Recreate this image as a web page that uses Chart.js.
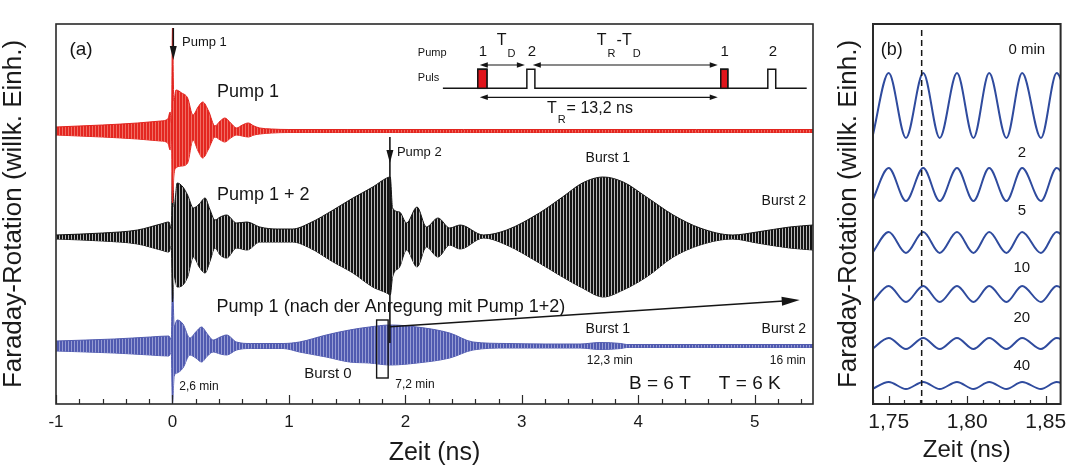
<!DOCTYPE html>
<html>
<head>
<meta charset="utf-8">
<script src="https://cdn.jsdelivr.net/npm/chart.js@4.4.1/dist/chart.umd.min.js"></script>
<style>
    body { margin: 0; background: #fff; }
    .wrap { position: relative; width: 1073px; height: 468px; }
    #ca { position: absolute; left: 0; top: 0; }
    #cb { position: absolute; left: 830px; top: 0; }
</style>
</head>
<body>
<div class="wrap">
    <canvas id="ca" width="840" height="468"></canvas>
    <canvas id="cb" width="243" height="468"></canvas>
</div>
<script>
// ---- panel (a): envelopes (deviation above / below each trace's baseline)
var xTicksA = [-1, 0, 1, 2, 3, 4, 5];

var redBase = 273;
var redT    = [-1, -0.6, -0.3, -0.1, -0.04, -0.02, -0.008, 0.0, 0.012, 0.03, 0.08, 0.13, 0.176, 0.22, 0.26, 0.31, 0.365, 0.41, 0.45, 0.5, 0.55, 0.6, 0.65, 0.7, 0.75, 0.85, 1.0, 1.5, 2.5, 3.5, 4.5, 5.5];
var redUp   = [4, 6, 8, 10, 12, 19, 8, 103, 30, 41, 38, 33, 16, 24, 29, 20, 5, 10, 13, 8, 3, 6, 8, 5, 3, 2, 1.5, 1.5, 1.5, 1.5, 1.5, 1.5];
var redDown = [4, 6, 8, 10, 12, 19, 8, 72, 45, 37, 35, 32, 9, 20, 27, 18, 6, 9, 11, 7, 4, 5, 6, 4, 3, 2, 1.5, 1.5, 1.5, 1.5, 1.5, 1.5];

var blackBase = 167;
var blackT    = [-1, -0.6, -0.3, -0.1, -0.03, -0.01, 0.0, 0.015, 0.04, 0.09, 0.13, 0.18, 0.23, 0.28, 0.32, 0.365, 0.41, 0.465, 0.55, 0.64, 0.75, 0.9, 1.03, 1.18, 1.38, 1.55, 1.72, 1.84, 1.87, 1.89, 1.95, 2.01, 2.1, 2.18, 2.28, 2.38, 2.47, 2.67, 2.87, 3.15, 3.35, 3.52, 3.7, 3.87, 4.07, 4.3, 4.53, 4.81, 5.02, 5.3, 5.5];
var blackUp   = [2, 4, 7, 13, 15, 8, 65, 30, 54, 50, 42, 29, 33, 39, 28, 17, 20, 22, 14, 15, 10, 8, 8, 14, 27, 39, 50, 59, 60, 29, 25, 14, 30, 10, 19, 9, 12, 2, 7, 24, 40, 54, 60, 55, 40, 22, 9, 2, 5, 10, 12];
var blackDown = [2, 4, 7, 13, 15, 8, 65, 40, 50, 48, 40, 20, 30, 36, 25, 11, 18, 21, 11, 13, 5, 5, 5, 11, 25, 36, 50, 56, 58, 40, 30, 13, 30, 10, 20, 8, 12, 1, 8, 26, 40, 51, 60, 53, 40, 20, 8, 2, 6, 11, 13];

var blueBase = 58;
var blueT    = [-1, -0.5, -0.19, -0.03, -0.01, 0.0, 0.015, 0.04, 0.09, 0.15, 0.2, 0.25, 0.3, 0.35, 0.41, 0.465, 0.55, 0.67, 0.95, 1.09, 1.32, 1.52, 1.69, 1.87, 2.1, 2.38, 2.58, 2.87, 3.2, 3.5, 3.67, 3.85, 3.9, 4.5, 5.5];
var blueUp   = [5, 7, 9, 10, 6, 64, 20, 26, 22, 8, 14, 19, 12, 6, 9, 11, 4, 2.5, 2.5, 4, 11, 16, 19, 21, 19, 13, 4, 2.5, 2, 2, 3.5, 2.5, 1.5, 1.5, 1.5];
var blueDown = [5, 7, 9, 10, 6, 58, 30, 27, 22, 9, 12, 16, 10, 6, 8, 9, 4, 2.5, 2.5, 6, 11, 16, 17, 19, 17, 12, 4, 2, 2, 2, 3.5, 2.5, 1.5, 1.5, 1.5];

// ---- panel (b): extrema of the zoomed traces
var xTicksB = [1.75, 1.80, 1.85];
var bTimes  = [1.7395, 1.750, 1.761, 1.772, 1.7825, 1.7935, 1.804, 1.814, 1.825, 1.835, 1.847, 1.857, 1.868];
var bIsPeak = [0, 1, 0, 1, 0, 1, 0, 1, 0, 1, 0, 1, 0];
var bLabels = ['0 min', '2', '5', '10', '20', '40'];
var bHigh   = [331, 236, 172, 118, 66, 22];
var bLow    = [266, 203, 151, 102, 55, 15];

var FONT = "'Liberation Sans', Arial, Helvetica, sans-serif";

function stripes(a, b) {
    var c = document.createElement('canvas');
    c.width = 3; c.height = 1;
    var g = c.getContext('2d');
    g.fillStyle = a; g.fillRect(0, 0, 2, 1);
    g.fillStyle = b; g.fillRect(2, 0, 1, 1);
    return g.createPattern(c, 'repeat');
}

function band(t, base, up, down, line, fillStyle) {
    return [{
        data: t.map(function (x, i) { return { x: x, y: base + up[i] }; }),
        borderColor: line, borderWidth: 1, backgroundColor: fillStyle, fill: '+1',
        pointRadius: 0, cubicInterpolationMode: 'monotone'
    }, {
        data: t.map(function (x, i) { return { x: x, y: base - down[i] }; }),
        borderColor: line, borderWidth: 1, fill: false,
        pointRadius: 0, cubicInterpolationMode: 'monotone'
    }];
}

function frameTicks(majors, step, majLen, minLen, lw) {
    return {
        id: 'frameTicks',
        afterDatasetsDraw: function (chart) {
            var a = chart.chartArea, ctx = chart.ctx, xs = chart.scales.x;
            ctx.save();
            ctx.strokeStyle = '#2a2a2a';
            ctx.lineWidth = lw;
            ctx.strokeRect(a.left, a.top, a.right - a.left, a.bottom - a.top);
            ctx.lineWidth = 1.2;
            ctx.beginPath();
            var n = Math.floor((xs.max - xs.min) / step + 1e-6);
            var start = Math.ceil(xs.min / step - 1e-6) * step;
            for (var k = 0; k <= n + 1; k++) {
                var v = start + k * step;
                if (v > xs.max + 1e-9) break;
                var isMaj = majors.some(function (m) { return Math.abs(m - v) < 1e-6; });
                var x = Math.round(xs.getPixelForValue(v)) + 0.5;
                ctx.moveTo(x, a.bottom);
                ctx.lineTo(x, a.bottom - (isMaj ? majLen : minLen));
            }
            ctx.stroke();
            ctx.restore();
        }
    };
}

function txt(ctx, s, x, y, size, align) {
    ctx.font = size + 'px ' + FONT;
    ctx.textAlign = align || 'center';
    ctx.textBaseline = 'middle';
    ctx.fillText(s, x, y);
}

function head(ctx, x1, y1, x2, y2, len, half) {
    var an = Math.atan2(y2 - y1, x2 - x1), c = Math.cos(an), s = Math.sin(an);
    ctx.beginPath();
    ctx.moveTo(x2, y2);
    ctx.lineTo(x2 - len * c + half * s, y2 - len * s - half * c);
    ctx.lineTo(x2 - len * c - half * s, y2 - len * s + half * c);
    ctx.closePath();
    ctx.fill();
}

function parts(ctx, list, x) {
    // list of [text, size, y]
    list.forEach(function (p) {
        ctx.font = p[1] + 'px ' + FONT;
        ctx.textAlign = 'left';
        ctx.textBaseline = 'middle';
        ctx.fillText(p[0], x, p[2]);
        x += ctx.measureText(p[0]).width + 1;
    });
}

var annotA = {
    id: 'annotA',
    afterDatasetsDraw: function (chart) {
        var ctx = chart.ctx;
        var X = function (v) { return chart.scales.x.getPixelForValue(v); };
        var Y = function (v) { return chart.scales.y.getPixelForValue(v); };
        ctx.save();
        ctx.fillStyle = '#151515';
        ctx.strokeStyle = '#151515';

        txt(ctx, '(a)', X(-0.785), Y(354), 19);

        // pump 1 arrow
        ctx.lineWidth = 1.6;
        ctx.beginPath(); ctx.moveTo(X(0.007), Y(376)); ctx.lineTo(X(0.007), Y(350)); ctx.stroke();
        head(ctx, X(0.007), Y(376), X(0.007), Y(344), 14, 3.5);
        txt(ctx, 'Pump 1', X(0.082), Y(362), 13, 'left');

        txt(ctx, 'Pump 1', X(0.382), Y(312), 18, 'left');
        txt(ctx, 'Pump 1 + 2', X(0.382), Y(209), 18, 'left');

        // pump 2 arrow + long marker line
        ctx.lineWidth = 1.6;
        ctx.beginPath(); ctx.moveTo(X(1.867), Y(267)); ctx.lineTo(X(1.867), Y(61)); ctx.stroke();
        head(ctx, X(1.867), Y(267), X(1.867), Y(241), 13, 3.5);
        txt(ctx, 'Pump 2', X(1.927), Y(252), 13, 'left');

        txt(ctx, 'Burst 1', X(3.738), Y(245.5), 14);
        txt(ctx, 'Burst 2', X(5.249), Y(202.5), 14);

        txt(ctx, 'Pump 1 (nach der Anregung mit Pump 1+2)', X(0.379), Y(97.3), 18, 'left');
        ctx.lineWidth = 1.4;
        ctx.beginPath(); ctx.moveTo(X(1.867), Y(77.3)); ctx.lineTo(X(5.25), Y(103)); ctx.stroke();
        head(ctx, X(1.867), Y(77.3), X(5.386), Y(104), 18, 4.5);

        ctx.lineWidth = 1.4;
        ctx.strokeRect(X(1.753), Y(84), X(1.852) - X(1.753), Y(26) - Y(84));

        txt(ctx, 'Burst 0', X(1.335), Y(30), 15);
        txt(ctx, '7,2 min', X(2.082), Y(19), 12);
        txt(ctx, '2,6 min', X(0.227), Y(17), 12);
        txt(ctx, 'Burst 1', X(3.738), Y(75), 14);
        txt(ctx, 'Burst 2', X(5.249), Y(75), 14);
        txt(ctx, '12,3 min', X(3.755), Y(43), 12);
        txt(ctx, '16 min', X(5.283), Y(43), 12);
        txt(ctx, 'B = 6 T', X(4.185), Y(20.5), 19);
        txt(ctx, 'T = 6 K', X(4.957), Y(20.5), 19);

        // inset: pulse scheme
        txt(ctx, 'Pump', X(2.107), Y(351.5), 11, 'left');
        txt(ctx, 'Puls', X(2.107), Y(326.5), 11, 'left');
        var lo = Y(315.7), hi = Y(334.7);
        var edges = [[2.622, 2.700], [3.043, 3.112], [4.708, 4.768], [5.112, 5.180]];
        ctx.lineWidth = 1.5;
        ctx.beginPath();
        ctx.moveTo(X(2.322), lo);
        edges.forEach(function (e) {
            ctx.lineTo(X(e[0]), lo); ctx.lineTo(X(e[0]), hi);
            ctx.lineTo(X(e[1]), hi); ctx.lineTo(X(e[1]), lo);
        });
        ctx.lineTo(X(5.446), lo);
        ctx.stroke();
        ctx.fillStyle = '#e0141b';
        [edges[0], edges[2]].forEach(function (e) {
            ctx.fillRect(X(e[0]), hi, X(e[1]) - X(e[0]), lo - hi);
            ctx.strokeRect(X(e[0]), hi, X(e[1]) - X(e[0]), lo - hi);
        });
        ctx.fillStyle = '#151515';
        txt(ctx, '1', X(2.665), Y(352), 15);
        txt(ctx, '2', X(3.086), Y(352), 15);
        txt(ctx, '1', X(4.742), Y(352), 15);
        txt(ctx, '2', X(5.155), Y(352), 15);
        parts(ctx, [['T', 16, Y(363)], ['D', 11, Y(350)]], X(2.785));
        parts(ctx, [['T', 16, Y(363)], ['R', 11, Y(350)], ['-T', 16, Y(363)], ['D', 11, Y(350)]], X(3.644));
        parts(ctx, [['T', 16, Y(295)], ['R', 11, Y(284)], ['= 13,2 ns', 16, Y(295)]], X(3.215));

        ctx.lineWidth = 1.2;
        [[2.639, 3.026, 339], [3.094, 4.682, 339], [2.639, 4.682, 306.7]].forEach(function (d) {
            var y = Y(d[2]);
            ctx.beginPath(); ctx.moveTo(X(d[0]) + 4, y); ctx.lineTo(X(d[1]) - 4, y); ctx.stroke();
            head(ctx, X(d[1]), y, X(d[0]), y, 8, 2.8);
            head(ctx, X(d[0]), y, X(d[1]), y, 8, 2.8);
        });
        ctx.restore();
    }
};

var annotB = {
    id: 'annotB',
    afterDatasetsDraw: function (chart) {
        var ctx = chart.ctx, a = chart.chartArea;
        var X = function (v) { return chart.scales.x.getPixelForValue(v); };
        var Y = function (v) { return chart.scales.y.getPixelForValue(v); };
        ctx.save();
        ctx.strokeStyle = '#151515';
        ctx.lineWidth = 1.5;
        ctx.setLineDash([6, 4]);
        ctx.beginPath(); ctx.moveTo(X(1.771), a.top + 6); ctx.lineTo(X(1.771), a.bottom); ctx.stroke();
        ctx.setLineDash([]);
        ctx.fillStyle = '#151515';
        txt(ctx, '(b)', X(1.7519), Y(354), 18);
        var ys = [354, 251, 193, 136, 86, 38];
        bLabels.forEach(function (s, i) { txt(ctx, s, i === 0 ? X(1.838) : X(1.8348), Y(ys[i]), 15); });
        ctx.restore();
    }
};

var cta = document.getElementById('ca').getContext('2d');
var dsA = [].concat(
    band(redT, redBase, redUp, redDown, 'rgb(226,36,30)', stripes('rgb(228,38,32)', 'rgb(240,110,100)')),
    band(blackT, blackBase, blackUp, blackDown, '#161616', stripes('#141414', '#b8b8b8')),
    band(blueT, blueBase, blueUp, blueDown, 'rgb(82,92,176)', stripes('rgb(80,90,176)', 'rgb(150,156,212)'))
);

new Chart(cta, {
    type: 'line',
    data: { datasets: dsA },
    options: {
        responsive: false, animation: false, devicePixelRatio: 1,
        layout: { padding: { top: 24, right: 27, left: 0, bottom: 0 } },
        plugins: { legend: { display: false }, tooltip: { enabled: false } },
        scales: {
            x: {
                type: 'linear', min: -1, max: 5.5,
                afterBuildTicks: function (s) { s.ticks = xTicksA.map(function (v) { return { value: v }; }); },
                afterFit: function (s) { s.height = 64; },
                grid: { display: false, drawTicks: false },
                border: { display: false },
                ticks: { color: '#1a1a1a', font: { family: FONT, size: 17 }, padding: 8, maxRotation: 0, autoSkip: false,
                    callback: function (v) { return String(v); } },
                title: { display: true, text: 'Zeit (ns)', color: '#1a1a1a', font: { family: FONT, size: 25 }, padding: { top: 0, bottom: 0 } }
            },
            y: {
                type: 'linear', min: 0, max: 380,
                afterFit: function (s) { s.width = 56; },
                ticks: { display: false },
                grid: { display: false, drawTicks: false },
                border: { display: false },
                title: { display: true, text: 'Faraday-Rotation (willk. Einh.)', color: '#1a1a1a', font: { family: FONT, size: 26, lineHeight: 1 }, padding: { top: 1, bottom: 0 } }
            }
        }
    },
    plugins: [annotA, frameTicks(xTicksA, 0.2, 9, 5, 1.6)]
});

var dsB = bLabels.map(function (name, k) {
    return {
        label: name,
        data: bTimes.map(function (t, i) { return { x: t, y: bIsPeak[i] ? bHigh[k] : bLow[k] }; }),
        borderColor: '#2f4b9e', borderWidth: 2, fill: false, pointRadius: 0,
        cubicInterpolationMode: 'monotone'
    };
});

new Chart(document.getElementById('cb').getContext('2d'), {
    type: 'line',
    data: { datasets: dsB },
    options: {
        responsive: false, animation: false, devicePixelRatio: 1,
        layout: { padding: { top: 24, right: 11, left: 0, bottom: 0 } },
        plugins: { legend: { display: false }, tooltip: { enabled: false } },
        scales: {
            x: {
                type: 'linear', min: 1.74, max: 1.8595,
                afterBuildTicks: function (s) { s.ticks = xTicksB.map(function (v) { return { value: v }; }); },
                afterFit: function (s) { s.height = 64; },
                grid: { display: false, drawTicks: false },
                border: { display: false },
                ticks: { color: '#1a1a1a', font: { family: FONT, size: 21 }, padding: 6, maxRotation: 0, autoSkip: false,
                    callback: function (v) { return v.toFixed(2).replace('.', ','); } },
                title: { display: true, text: 'Zeit (ns)', color: '#1a1a1a', font: { family: FONT, size: 24 }, padding: { top: 0, bottom: 3 } }
            },
            y: {
                type: 'linear', min: 0, max: 380,
                afterFit: function (s) { s.width = 43; },
                ticks: { display: false },
                grid: { display: false, drawTicks: false },
                border: { display: false },
                title: { display: true, text: 'Faraday-Rotation (willk. Einh.)', color: '#1a1a1a', font: { family: FONT, size: 26, lineHeight: 1 }, padding: { top: 6, bottom: 0 } }
            }
        }
    },
    plugins: [annotB, frameTicks(xTicksB, 0.01, 8, 4, 2)]
});
</script>
</body>
</html>
